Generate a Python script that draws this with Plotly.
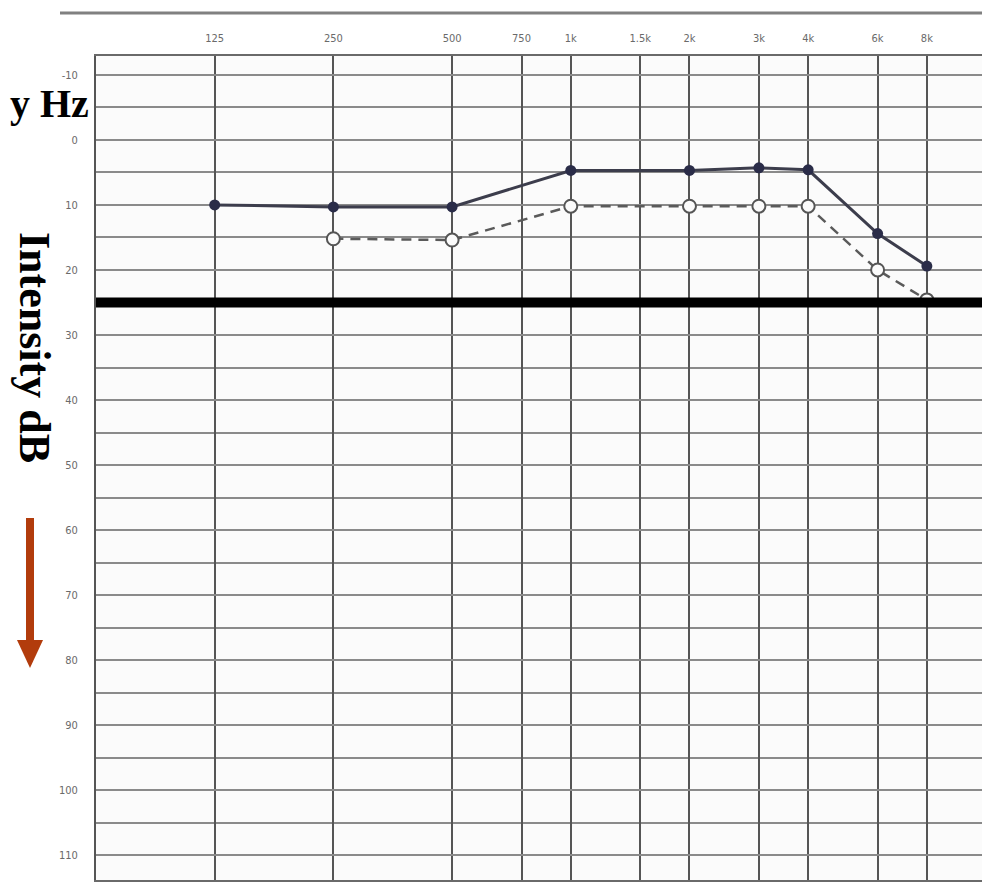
import math
import plotly.graph_objects as go

# ---------------- data ----------------
freq_ticks = [125, 250, 500, 750, 1000, 1500, 2000, 3000, 4000, 6000, 8000]
freq_labels = ["125", "250", "500", "750", "1k", "1.5k", "2k", "3k", "4k", "6k", "8k"]

db_ticks = [-10, 0, 10, 20, 30, 40, 50, 60, 70, 80, 90, 100, 110]
db_labels = ["-10", "0", "10", "20", "30", "40", "50", "60", "70", "80", "90", "100", "110"]

solid_freqs = [125, 250, 500, 1000, 2000, 3000, 4000, 6000, 8000]
solid_db = [10, 10.3, 10.3, 4.7, 4.7, 4.3, 4.6, 14.4, 19.4]

dashed_freqs = [250, 500, 1000, 2000, 3000, 4000, 6000, 8000]
dashed_db = [15.2, 15.4, 10.2, 10.2, 10.2, 10.2, 20, 24.6]

normal_limit_db = 25

# ---------------- layout geometry ----------------
# the page has a default 8px body margin, so the figure is drawn 8px in
OFF = 8
W, H = 990 - OFF, 887 - OFF
ML, MR, MT, MB = 96 - OFF, 0, 56 - OFF, 7
PW, PH = W - ML - MR, H - MT - MB


def px_x(px):
    """page pixel x -> paper coordinate"""
    return (px - OFF - ML) / PW


def px_y(py):
    """page pixel y -> paper coordinate"""
    return (H - MB - (py - OFF)) / PH


GRID_H = "#8a8a8a"
GRID_V = "#555555"
BG = "#fbfbfb"

fig = go.Figure()

fig.add_trace(go.Scatter(
    x=dashed_freqs, y=dashed_db, mode="lines+markers",
    line=dict(color="#5a5a5a", width=2.5, dash="10px,7px"),
    marker=dict(symbol="circle", size=13, color=BG,
                line=dict(color="#555555", width=2)),
    showlegend=False, cliponaxis=False,
))

fig.add_trace(go.Scatter(
    x=solid_freqs, y=solid_db, mode="lines+markers",
    line=dict(color="#3c3d4c", width=3),
    marker=dict(symbol="circle", size=11, color="#2a2c48"),
    showlegend=False, cliponaxis=False,
))

# normal hearing limit
fig.add_shape(type="line", xref="paper", yref="y", x0=0, x1=1,
              y0=normal_limit_db, y1=normal_limit_db,
              line=dict(color="#000000", width=10), layer="above")

# top frame line of the form
fig.add_shape(type="line", xref="paper", yref="paper",
              x0=px_x(60), x1=1, y0=px_y(13), y1=px_y(13),
              line=dict(color="#808080", width=3), layer="above")

# red arrow
ARROW = "#b23c0c"
fig.add_shape(type="line", xref="paper", yref="paper",
              x0=px_x(30), x1=px_x(30), y0=px_y(518), y1=px_y(645),
              line=dict(color=ARROW, width=8))
fig.add_shape(type="path", xref="paper", yref="paper",
              path=(f"M {px_x(17)} {px_y(640)} L {px_x(43)} {px_y(640)} "
                    f"L {px_x(30)} {px_y(668)} Z"),
              fillcolor=ARROW, line=dict(color=ARROW, width=0))

fig.add_annotation(text="<b>y Hz</b>", xref="paper", yref="paper",
                   x=px_x(91), y=px_y(104), xanchor="right", yanchor="middle",
                   showarrow=False,
                   font=dict(family="Liberation Serif", size=40, color="#000000"))
fig.add_annotation(text="<b>Intensity dB</b>", xref="paper", yref="paper",
                   x=px_x(35), y=px_y(347), xanchor="center", yanchor="middle",
                   textangle=90, showarrow=False,
                   font=dict(family="Liberation Serif", size=44, color="#000000"))

x_lo = math.log10(62.5)
x_hi = math.log10(8000) + 0.532 * math.log10(2)

tick_font = dict(family="Liberation Sans Narrow, DejaVu Sans Condensed, Arial Narrow, sans-serif",
                 size=11, color="#6a6a6a")

fig.update_layout(
    width=W, height=H,
    margin=dict(l=ML, r=MR, t=MT, b=MB, pad=0),
    paper_bgcolor="#ffffff", plot_bgcolor=BG,
    xaxis=dict(
        type="log", range=[x_lo, x_hi], side="top",
        tickmode="array", tickvals=freq_ticks, ticktext=freq_labels,
        tickfont=tick_font, ticks="", ticklabelstandoff=8,
        showgrid=True, gridcolor=GRID_V, gridwidth=2,
        zeroline=False, showline=True, linecolor="#6a6a6a", linewidth=2,
        mirror=True,
    ),
    yaxis=dict(
        range=[113.8, -12.9],
        tickmode="array", tickvals=db_ticks, ticktext=db_labels,
        tickfont=tick_font, ticks="", ticklabelstandoff=14,
        showgrid=True, gridcolor=GRID_H, gridwidth=2,
        minor=dict(tickmode="linear", tick0=5, dtick=10, showgrid=True,
                   gridcolor=GRID_H, gridwidth=2),
        zeroline=False, showline=True, linecolor="#555555", linewidth=2,
    ),
)

fig.write_html("out.html")
